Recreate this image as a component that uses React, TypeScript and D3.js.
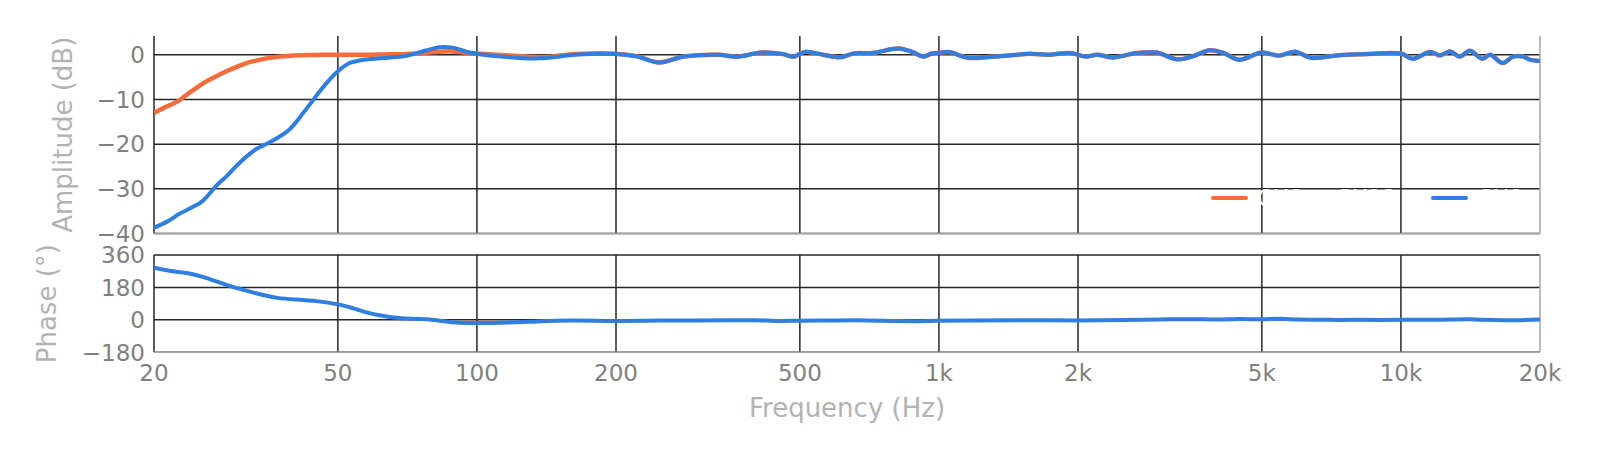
import { useEffect, useRef } from 'react';
import * as d3 from 'd3';

// frequency points (Hz) shared by both amplitude series
const freqs = [
    20, 21.3, 22.7, 23.5, 25.3, 26, 27.3, 28.7, 30.2, 31.7, 33.3, 35.6, 39.3, 42.1, 44.3, 47.3,
    50, 53, 56.9, 61.7, 64.5, 71, 77.5, 83, 88.6, 96.3, 111, 137, 164, 200, 222, 248, 280, 334,
    365, 413, 460, 484, 512, 561, 611, 655, 718, 818, 877, 925, 965, 1000, 1050, 1160, 1280,
    1480, 1570, 1730, 1920, 2080, 2200, 2380, 2680, 2960, 3270, 3530, 3860, 4130, 4470, 5000,
    5450, 5900, 6400, 7180, 8770, 10000, 10600, 11560, 12150, 12770, 13400, 14100, 15000,
    15600, 16600, 17500, 18400, 19000, 20000,
];

// CX8 + SX12 amplitude (dB)
const ampCombo = [
    -13, -11.6, -10.2, -9.0, -6.7, -5.9, -4.8, -3.7, -2.7, -1.85, -1.3, -0.65, -0.2, -0.1, -0.05, 0,
    0, 0, 0, 0.05, 0.1, 0.2, 0.45, 0.7, 0.75, 0.4, 0, -0.5, 0.2, 0.25, -0.3, -1.7, -0.4, 0,
    -0.45, 0.5, 0.15, -0.45, 0.65, 0, -0.55, 0.3, 0.4, 1.4, 0.6, -0.4, 0.3, 0.4, 0.6, -0.7, -0.5,
    0, 0.2, 0, 0.4, -0.4, 0, -0.6, 0.4, 0.5, -1.0, -0.4, 1.0, 0.4, -1.1, 0.5,
    -0.2, 0.7, -0.7, -0.2, 0.2, 0.3, -0.9, 0.6, -0.15, 0.75, -0.4, 0.9, -0.9,
    0, -1.85, -0.4, -0.4, -1.1, -1.4,
];

// CX8 amplitude (dB)
const ampCx8 = [
    -38.7, -37.4, -35.6, -34.8, -33, -31.8, -29.3, -27.2, -24.8, -22.8, -21.1, -19.6, -16.7, -13, -10, -6.3,
    -3.7, -1.85, -1.1, -0.8, -0.65, -0.15, 0.95, 1.7, 1.6, 0.5, -0.35, -0.8, 0, 0.15, -0.4, -1.75, -0.4, 0,
    -0.45, 0.5, 0.15, -0.45, 0.65, 0, -0.55, 0.3, 0.4, 1.4, 0.6, -0.4, 0.3, 0.4, 0.6, -0.7, -0.5,
    0, 0.2, 0, 0.4, -0.4, 0, -0.6, 0.4, 0.5, -1.0, -0.4, 1.0, 0.4, -1.1, 0.5,
    -0.2, 0.7, -0.7, -0.2, 0.2, 0.3, -0.9, 0.6, -0.15, 0.75, -0.4, 0.9, -0.9,
    0, -1.85, -0.4, -0.4, -1.1, -1.4,
];

// phase (deg)
const phaseFreqs = [
    20, 22, 24, 26, 29, 33, 37, 42, 45, 50, 54, 58, 62, 66, 72, 78, 84, 90, 100, 112, 130, 160,
    200, 250, 300, 350, 400, 450, 500, 600, 700, 800, 900, 1000, 1200, 1500, 2000, 2500, 3000,
    3500, 4000, 4500, 5000, 5500, 6000, 7000, 8000, 10000, 12000, 14000, 15000, 17000, 20000,
];
const phaseCx8 = [
    290, 270, 256, 232, 190, 150, 122, 110, 104, 86, 64, 40, 24, 13, 6, 4, -6, -15, -18, -16, -10, -4,
    -6, -3, -4, -2, -2, -6, -5, -3, -3, -6, -8, -5, -4, -2, -3, -1, 2,
    4, 2, 5, 3, 6, 2, 0, 0, 0, 1, 4, 0, -2, 2,
];

const xTicks = [20, 50, 100, 200, 500, 1000, 2000, 5000, 10000, 20000];
const xTickLabels = ['20', '50', '100', '200', '500', '1k', '2k', '5k', '10k', '20k'];
const ampTicks = [0, -10, -20, -30, -40];
const phaseTicks = [360, 180, 0, -180];

const series = [
    { name: 'CX8 + SX12', values: ampCombo, color: '#f36c3a' },
    { name: 'CX8', values: ampCx8, color: '#2f7ee0' },
];

export default function App() {
    const svgRef = useRef<SVGSVGElement>(null);

    useEffect(() => {
        if (!svgRef.current) return;
        const svg = d3.select(svgRef.current);
        svg.selectAll('*').remove();

        const left = 154;
        const right = 1540;
        const amp = { top: 36, bottom: 233.5 };
        const ph = { top: 255, bottom: 352.3 };
        const font = 'DejaVu Sans, sans-serif';
        const tickSize = 23;
        const labelSize = 26;
        const gridColor = '#262626';
        const spineColor = '#a6a6a6';
        const tickColor = '#808080';
        const labelColor = '#b3b3b3';

        const x = d3.scaleLog().domain([20, 20000]).range([left, right]);
        const yAmp = d3.scaleLinear().domain([-40, 4.2]).range([amp.bottom, amp.top]);
        const yPh = d3.scaleLinear().domain([-180, 360]).range([ph.bottom, ph.top]);

        const defs = svg.append('defs');
        defs.append('clipPath').attr('id', 'clip-amp')
            .append('rect').attr('x', left).attr('y', amp.top)
            .attr('width', right - left).attr('height', amp.bottom - amp.top);
        defs.append('clipPath').attr('id', 'clip-ph')
            .append('rect').attr('x', left).attr('y', ph.top)
            .attr('width', right - left).attr('height', ph.bottom - ph.top);

        const drawPanel = (
            y: d3.ScaleLinear<number, number>,
            box: { top: number; bottom: number },
            ticks: number[],
        ) => {
            const g = svg.append('g');
            // vertical grid
            g.selectAll('.vg').data(xTicks.slice(0, -1)).enter().append('line')
                .attr('x1', d => x(d)).attr('x2', d => x(d))
                .attr('y1', box.top).attr('y2', box.bottom)
                .attr('stroke', gridColor).attr('stroke-width', 1.5);
            // horizontal grid
            g.selectAll('.hg').data(ticks).enter().append('line')
                .attr('x1', left).attr('x2', right)
                .attr('y1', d => y(d)).attr('y2', d => y(d))
                .attr('stroke', gridColor).attr('stroke-width', 1.5);
            // spines (bottom, right)
            g.append('line').attr('x1', left).attr('x2', right)
                .attr('y1', box.bottom).attr('y2', box.bottom)
                .attr('stroke', spineColor).attr('stroke-width', 1.5);
            g.append('line').attr('x1', right).attr('x2', right)
                .attr('y1', box.top).attr('y2', box.bottom)
                .attr('stroke', spineColor).attr('stroke-width', 1.5);
            // y tick labels
            g.selectAll('.yl').data(ticks).enter().append('text')
                .attr('x', 145).attr('y', d => y(d)).attr('dy', '0.36em')
                .attr('text-anchor', 'end')
                .attr('font-family', font).attr('font-size', tickSize)
                .attr('fill', tickColor)
                .text(d => (d < 0 ? `\u2212${Math.abs(d)}` : `${d}`));
        };

        drawPanel(yAmp, amp, ampTicks);
        drawPanel(yPh, ph, phaseTicks);

        // amplitude curves
        const line = d3.line<[number, number]>()
            .x(d => x(d[0]))
            .y(d => yAmp(d[1]))
            .curve(d3.curveCatmullRom.alpha(0.5));

        series.forEach((s, i) => {
            svg.append('path')
                .datum(freqs.map((f, j) => [f, s.values[j]] as [number, number]))
                .attr('clip-path', 'url(#clip-amp)')
                .attr('fill', 'none')
                .attr('stroke', s.color)
                .attr('stroke-width', i === 0 ? 4.5 : 4)
                .attr('stroke-linejoin', 'round')
                .attr('d', line);
        });

        // phase curve
        const phLine = d3.line<[number, number]>()
            .x(d => x(d[0]))
            .y(d => yPh(d[1]))
            .curve(d3.curveCatmullRom.alpha(0.5));

        svg.append('path')
            .datum(phaseFreqs.map((f, j) => [f, phaseCx8[j]] as [number, number]))
            .attr('clip-path', 'url(#clip-ph)')
            .attr('fill', 'none')
            .attr('stroke', series[1].color)
            .attr('stroke-width', 4)
            .attr('d', phLine);

        // x tick labels
        svg.selectAll('.xl').data(xTicks).enter().append('text')
            .attr('x', d => x(d)).attr('y', 381)
            .attr('text-anchor', 'middle')
            .attr('font-family', font).attr('font-size', tickSize)
            .attr('fill', tickColor)
            .text((d, i) => xTickLabels[i]);

        // axis titles
        svg.append('text')
            .attr('x', (left + right) / 2).attr('y', 417)
            .attr('text-anchor', 'middle')
            .attr('font-family', font).attr('font-size', labelSize)
            .attr('fill', labelColor)
            .text('Frequency (Hz)');

        svg.append('text')
            .attr('transform', `translate(72,${(amp.top + amp.bottom) / 2}) rotate(-90)`)
            .attr('text-anchor', 'middle')
            .attr('font-family', font).attr('font-size', labelSize)
            .attr('fill', labelColor)
            .text('Amplitude (dB)');

        svg.append('text')
            .attr('transform', `translate(56,${(ph.top + ph.bottom) / 2}) rotate(-90)`)
            .attr('text-anchor', 'middle')
            .attr('font-family', font).attr('font-size', labelSize)
            .attr('fill', labelColor)
            .text('Phase (\u00b0)');

        // legend (white text, as in the source)
        const legendX = [1213, 1433];
        series.forEach((s, i) => {
            const lg = svg.append('g').attr('transform', `translate(${legendX[i]},198)`);
            lg.append('line').attr('x1', 0).attr('x2', 33).attr('y1', 0).attr('y2', 0)
                .attr('stroke', s.color).attr('stroke-width', 4).attr('stroke-linecap', 'round');
            lg.append('text').attr('x', 44).attr('y', 0).attr('dy', '0.36em')
                .attr('font-family', font).attr('font-size', tickSize)
                .attr('fill', '#ffffff')
                .text(s.name);
        });
    }, []);

    return (
        <svg
            ref={svgRef}
            width={1600}
            height={459}
            style={{ position: 'absolute', left: 0, top: 0, background: '#ffffff' }}
        />
    );
}
